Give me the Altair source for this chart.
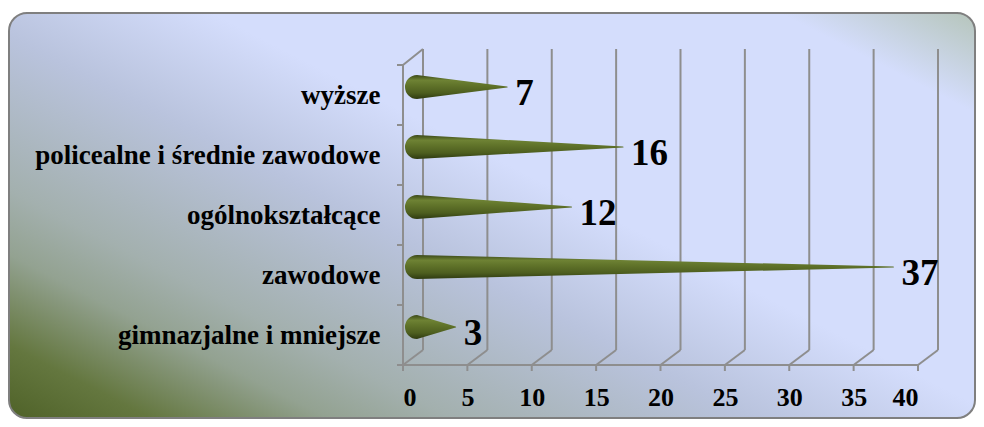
import altair as alt
import pandas as pd

# ---- data ----
categories = ["wyższe", "policealne i średnie zawodowe", "ogólnokształcące",
              "zawodowe", "gimnazjalne i mniejsze"]
values = [7, 16, 12, 37, 3]
x_ticks = [0, 5, 10, 15, 20, 25, 30, 35, 40]

bars = pd.DataFrame({"cat": categories, "v": values})
# each cone: wide base at 0, point at the value
cones = pd.DataFrame({
    "cat": categories + categories,
    "x": [0] * len(values) + values,
    "w": [1] * len(values) + [0] * len(values),
})
ticks = pd.DataFrame({"t": x_ticks})
one = pd.DataFrame({"a": [0]})

# ---- style ----
FONT = "Liberation Serif"
GRID = "#8e8e8e"
W, H = 515, 300

xscale = alt.Scale(domain=[0, 40], nice=False, zero=True)
xaxis = alt.Axis(values=x_ticks, grid=False, ticks=False, tickSize=0, domain=False,
                 labelFont=FONT, labelFontSize=26, labelFontWeight="bold",
                 labelColor="black", labelPadding=40, labelBaseline="alphabetic",
                 title=None, zindex=2)
yscale = alt.Scale(type="point", domain=categories, padding=0.5)
yaxis = alt.Axis(grid=False, ticks=False, tickSize=0, domain=False,
                 labelFont=FONT, labelFontSize=27, labelFontWeight="bold",
                 labelColor="black", labelPadding=23, labelBaseline="alphabetic",
                 labelOffset=8, labelLimit=500, title=None, zindex=2)


def X(field="t:Q"):
    return alt.X(field, scale=xscale, axis=xaxis)


def Y():
    return alt.Y("cat:N", scale=yscale, axis=yaxis, sort=categories)


bg_grad = alt.Gradient(
    gradient="linear", x1=0, y1=1, x2=1.1, y2=0.1,
    stops=[
        alt.GradientStop(offset=0.0, color="#4f6228"),
        alt.GradientStop(offset=0.08, color="#64773f"),
        alt.GradientStop(offset=0.18, color="#93a291"),
        alt.GradientStop(offset=0.25, color="#a3b0ae"),
        alt.GradientStop(offset=0.42, color="#b9c3dd"),
        alt.GradientStop(offset=0.56, color="#d4ddfc"),
        alt.GradientStop(offset=0.88, color="#d4ddfc"),
        alt.GradientStop(offset=1.0, color="#b3c3b5"),
    ])

cone_grad = alt.Gradient(
    gradient="linear", x1=0, y1=0, x2=0, y2=1,
    stops=[
        alt.GradientStop(offset=0.0, color="#3a4818"),
        alt.GradientStop(offset=0.22, color="#6e8234"),
        alt.GradientStop(offset=0.45, color="#5f7229"),
        alt.GradientStop(offset=0.75, color="#4d5e1f"),
        alt.GradientStop(offset=1.0, color="#2e3a10"),
    ])

background = alt.Chart(one).mark_rect(
    cornerRadius=18, stroke="#7f7f7f", strokeWidth=2, fill=bg_grad
).encode(x=alt.value(-394), x2=alt.value(572), y=alt.value(-52), y2=alt.value(353))

back_grid = alt.Chart(ticks).mark_rule(color=GRID, strokeWidth=2, xOffset=20).encode(
    x=X(), y=alt.value(-16), y2=alt.value(285))

floor_diag = alt.Chart(ticks).mark_rule(color=GRID, strokeWidth=2, x2Offset=20).encode(
    x=X(), x2=alt.X2("t"), y=alt.value(300), y2=alt.value(285))

bottom_ticks = alt.Chart(ticks).mark_rule(color=GRID, strokeWidth=2).encode(
    x=X(), y=alt.value(300), y2=alt.value(306))

front_floor = alt.Chart(ticks).mark_rule(color=GRID, strokeWidth=2).encode(
    x=alt.X("min(t):Q", scale=xscale, axis=xaxis), x2=alt.X2("max(t)"),
    y=alt.value(300))

left_front = alt.Chart(ticks).transform_filter("datum.t == 0").mark_rule(
    color=GRID, strokeWidth=2).encode(x=X(), y=alt.value(0), y2=alt.value(300))

left_top = alt.Chart(ticks).transform_filter("datum.t == 0").mark_rule(
    color=GRID, strokeWidth=2, x2Offset=20).encode(
    x=X(), x2=alt.X2("t"), y=alt.value(0), y2=alt.value(-16))

sep_up = alt.Chart(bars).mark_rule(color=GRID, strokeWidth=2, yOffset=-30).encode(
    x=alt.value(-6), x2=alt.value(0), y=Y())
sep_down = alt.Chart(bars).mark_rule(color=GRID, strokeWidth=2, yOffset=30).encode(
    x=alt.value(-6), x2=alt.value(0), y=Y())

cone = alt.Chart(cones).mark_trail(
    xOffset=14, yOffset=-8, fill=cone_grad, color="#5f7229", strokeWidth=0
).encode(
    x=X("x:Q"), y=Y(),
    size=alt.Size("w:Q", scale=alt.Scale(domain=[0, 1], range=[0, 24]), legend=None),
    detail="cat:N",
)

labels = alt.Chart(bars).mark_text(
    align="left", baseline="alphabetic", dx=22, dy=10, font=FONT, fontSize=37,
    fontWeight="bold", color="black"
).encode(x=X("v:Q"), y=Y(), text="v:Q")

chart = alt.layer(
    background, back_grid, floor_diag, bottom_ticks, front_floor, left_front,
    left_top, sep_up, sep_down, cone, labels
).properties(
    width=W, height=H,
    padding={"left": 395, "top": 57, "right": 58, "bottom": 54},
    autosize=alt.AutoSizeParams(type="none"),
    background="white",
).configure_view(stroke=None)

chart.save("out.html", embed_options={"renderer": "svg", "actions": False})
